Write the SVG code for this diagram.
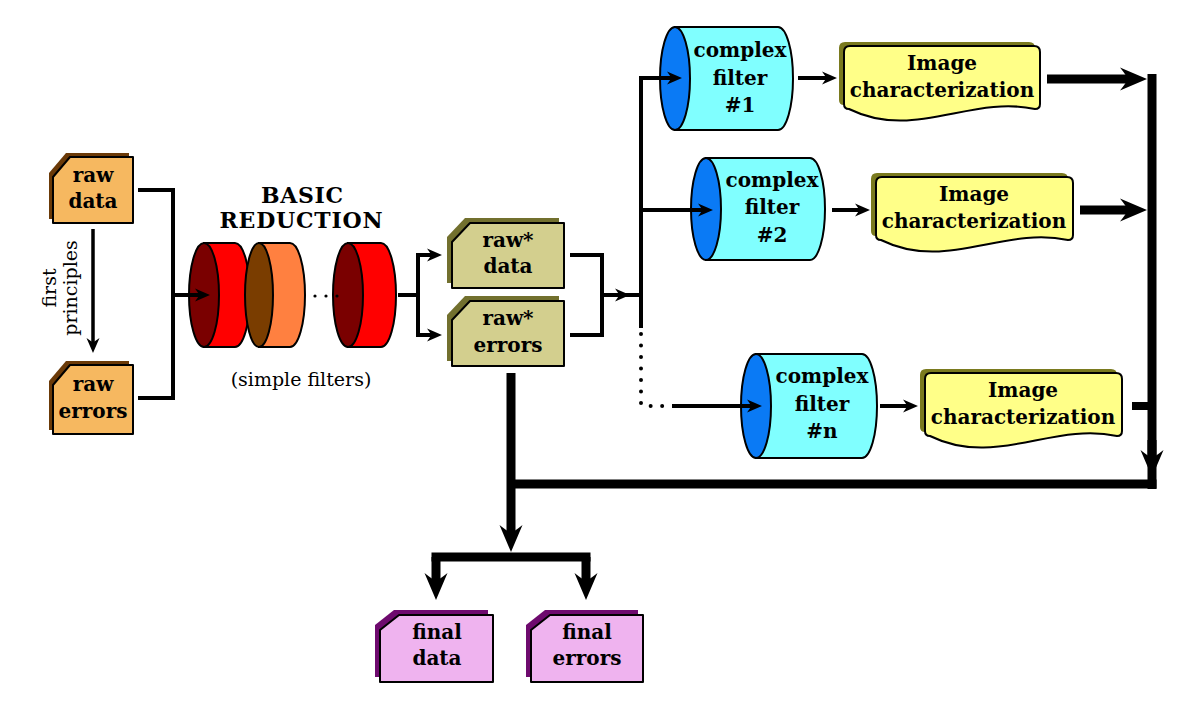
<svg xmlns="http://www.w3.org/2000/svg" width="1190" height="710" viewBox="0 0 1190 710">
<style>
.lb{font-family:"DejaVu Serif",serif;font-weight:bold;font-size:20px;text-anchor:middle;fill:#000}
.lr{font-family:"DejaVu Serif",serif;font-size:19px;text-anchor:middle;fill:#000}
.edge{fill:none;stroke:#000;stroke-width:4}
.thick{fill:none;stroke:#000;stroke-width:9}
.front{stroke:#000;stroke-width:2;stroke-linejoin:round}
.raw{fill:#F6B860}.rawS{fill:#6B3A08}
.rs{fill:#D3CF8E}.rsS{fill:#72702E}
.fin{fill:#EFB3EF}.finS{fill:#6E0A6E}
.ic{fill:#FFFF88}.icS{fill:#7A7A1E}
.cyl{stroke:#000;stroke-width:2}
</style>
<defs>
<marker id="ah" viewBox="-16 -8 17 16" markerWidth="17" markerHeight="16" refX="-7" refY="0" orient="auto" markerUnits="userSpaceOnUse">
<path d="M0,0 L-15,-6.5 L-10.5,0 L-15,6.5 Z" fill="#000"/>
</marker>
<marker id="AH" viewBox="-28 -13 29 26" markerWidth="29" markerHeight="26" refX="-12" refY="0" orient="auto" markerUnits="userSpaceOnUse">
<path d="M0,0 L-27,-11.5 Q-21,-4 -19,0 Q-21,4 -27,11.5 Z" fill="#000"/>
</marker>
</defs>
<rect width="1190" height="710" fill="#fff"/>

<g id="raw-data">
<path class="rawS" d="M49,173 L66,153 H129 V219 H49 Z"/>
<path class="raw front" d="M53,177 L70,157 H133 V223 H53 Z"/>
<text class="lb" x="93" y="182">raw</text>
<text class="lb" x="93" y="208">data</text>
</g>
<g id="raw-errors">
<path class="rawS" d="M49,381 L66,361 H129 V430 H49 Z"/>
<path class="raw front" d="M53,385 L70,365 H133 V434 H53 Z"/>
<text class="lb" x="93" y="391">raw</text>
<text class="lb" x="93" y="418">errors</text>
</g>
<g id="first-principles">
<text class="lr" transform="translate(56,288) rotate(-90)">first</text>
<text class="lr" transform="translate(77,288) rotate(-90)">principles</text>
</g>

<g id="basic-reduction">
<text class="lb" x="302" y="203" style="font-size:22px" textLength="82" lengthAdjust="spacing">BASIC</text>
<text class="lb" x="301" y="228" style="font-size:22px" textLength="163" lengthAdjust="spacing">REDUCTION</text>
<path class="cyl" fill="#FF0000" d="M204,243 H235 A15,52 0 0 1 235,347 H204 Z"/>
<ellipse class="cyl" cx="204" cy="295" rx="15" ry="52" fill="#7A0000"/>
<path class="cyl" fill="#FF8040" d="M259,243 H290 A15,52 0 0 1 290,347 H259 Z"/>
<ellipse class="cyl" cx="259" cy="295" rx="14" ry="52" fill="#7A3D00"/>
<circle cx="315" cy="296" r="1.6"/>
<circle cx="326" cy="296" r="1.6"/>
<path class="cyl" fill="#FF0000" d="M348,243 H381 A15,52 0 0 1 381,347 H348 Z"/>
<ellipse class="cyl" cx="348" cy="295" rx="15" ry="52" fill="#7A0000"/>
<circle cx="337" cy="296" r="1.6"/>
<text class="lr" x="301" y="386">(simple filters)</text>
</g>

<g id="rawstar-data">
<path class="rsS" d="M447,237 L465,218 H559 V283 H447 Z"/>
<path class="rs front" d="M452,242 L470,223 H564 V288 H452 Z"/>
<text class="lb" x="508" y="247">raw*</text>
<text class="lb" x="508" y="273">data</text>
</g>
<g id="rawstar-errors">
<path class="rsS" d="M447,315 L465,296 H559 V361 H447 Z"/>
<path class="rs front" d="M452,320 L470,301 H564 V366 H452 Z"/>
<text class="lb" x="508" y="325">raw*</text>
<text class="lb" x="508" y="352">errors</text>
</g>

<g id="filter-1">
<path class="cyl" fill="#80FFFF" d="M675,27 H778 A15,51.5 0 0 1 778,130 H675 Z"/>
<ellipse class="cyl" cx="675" cy="78.5" rx="15" ry="51.5" fill="#0A7AF5"/>
<text class="lb" x="740" y="57">complex</text>
<text class="lb" x="740" y="85">filter</text>
<text class="lb" x="740" y="112">#1</text>
</g>
<g id="filter-2">
<path class="cyl" fill="#80FFFF" d="M706,158 H810 A15,51 0 0 1 810,260 H706 Z"/>
<ellipse class="cyl" cx="706" cy="209" rx="15" ry="51" fill="#0A7AF5"/>
<text class="lb" x="772" y="187">complex</text>
<text class="lb" x="772" y="214">filter</text>
<text class="lb" x="772" y="242">#2</text>
</g>
<g id="filter-n">
<path class="cyl" fill="#80FFFF" d="M756,354 H862 A15,52 0 0 1 862,458 H756 Z"/>
<ellipse class="cyl" cx="756" cy="406" rx="15" ry="52" fill="#0A7AF5"/>
<text class="lb" x="822" y="383">complex</text>
<text class="lb" x="822" y="411">filter</text>
<text class="lb" x="822" y="438">#n</text>
</g>

<g id="image-char-1">
<path class="icS" transform="translate(-5,-4)" d="M844,52 Q844,46 850,46 H1034 Q1040,46 1040,52 V104 Q1040,109 1035,109 C970,95 914,141 849,109 Q844,109 844,104 Z"/>
<path class="ic front" d="M844,52 Q844,46 850,46 H1034 Q1040,46 1040,52 V104 Q1040,109 1035,109 C970,95 914,141 849,109 Q844,109 844,104 Z"/>
<text class="lb" x="942" y="70">Image</text>
<text class="lb" x="942" y="97">characterization</text>
</g>
<g id="image-char-2">
<path class="icS" transform="translate(-5,-4)" d="M876,183 Q876,177 882,177 H1067 Q1073,177 1073,183 V235 Q1073,240 1068,240 C1003,226 946,272 881,240 Q876,240 876,235 Z"/>
<path class="ic front" d="M876,183 Q876,177 882,177 H1067 Q1073,177 1073,183 V235 Q1073,240 1068,240 C1003,226 946,272 881,240 Q876,240 876,235 Z"/>
<text class="lb" x="974" y="201">Image</text>
<text class="lb" x="974" y="228">characterization</text>
</g>
<g id="image-char-n">
<path class="icS" transform="translate(-5,-4)" d="M925,379 Q925,373 931,373 H1116 Q1122,373 1122,379 V431 Q1122,436 1117,436 C1052,422 995,468 930,436 Q925,436 925,431 Z"/>
<path class="ic front" d="M925,379 Q925,373 931,373 H1116 Q1122,373 1122,379 V431 Q1122,436 1117,436 C1052,422 995,468 930,436 Q925,436 925,431 Z"/>
<text class="lb" x="1023" y="397">Image</text>
<text class="lb" x="1023" y="424">characterization</text>
</g>

<g id="final-data">
<path class="finS" d="M375,625 L394,610 H488 V677 H375 Z"/>
<path class="fin front" d="M380,630 L399,615 H493 V682 H380 Z"/>
<text class="lb" x="437" y="639">final</text>
<text class="lb" x="437" y="665">data</text>
</g>
<g id="final-errors">
<path class="finS" d="M526,625 L545,610 H638 V677 H526 Z"/>
<path class="fin front" d="M531,630 L550,615 H643 V682 H531 Z"/>
<text class="lb" x="587" y="639">final</text>
<text class="lb" x="587" y="665">errors</text>
</g>

<g id="connectors">
<path class="edge" d="M138,190 H173 V398 H138"/>
<path class="edge" d="M173,295 H203" marker-end="url(#ah)"/>
<path class="edge" style="stroke-width:3.5" d="M93,229 V346" marker-end="url(#ah)"/>
<path class="edge" d="M398,295 H418"/>
<path class="edge" d="M418,295 V255 H435" marker-end="url(#ah)"/>
<path class="edge" d="M418,295 V335 H435" marker-end="url(#ah)"/>
<path class="edge" d="M570,255 H602 V335 H570"/>
<path class="edge" d="M602,295 H641"/>
<path class="edge" d="M602,295 H623" marker-end="url(#ah)"/>
<path class="edge" d="M641,76 V328"/>
<path class="edge" d="M641,78 H675" marker-end="url(#ah)"/>
<path class="edge" d="M641,210 H706" marker-end="url(#ah)"/>
<path class="edge" style="stroke-dasharray:0 11.5;stroke-linecap:round" d="M641,334 V404 Q641,406 645,406 H672"/>
<path class="edge" d="M672,406 H755" marker-end="url(#ah)"/>
<path class="edge" d="M798,78 H830" marker-end="url(#ah)"/>
<path class="edge" d="M832,210 H863" marker-end="url(#ah)"/>
<path class="edge" d="M880,406 H911" marker-end="url(#ah)"/>
<path class="thick" d="M1047,79 H1135" marker-end="url(#AH)"/>
<path class="thick" d="M1080,210 H1135" marker-end="url(#AH)"/>
<path class="thick" style="stroke-width:8" d="M1132,406 H1152"/>
<path class="thick" d="M1152,74 V489"/>
<path class="thick" d="M1152,440 V465" marker-end="url(#AH)"/>
<path class="thick" d="M507,484 H1156.5"/>
<path class="thick" d="M511,373 V540" marker-end="url(#AH)"/>
<path class="thick" d="M431.5,557 H590.5"/>
<path class="thick" d="M436,557 V588" marker-end="url(#AH)"/>
<path class="thick" d="M586,557 V588" marker-end="url(#AH)"/>
</g>
</svg>
